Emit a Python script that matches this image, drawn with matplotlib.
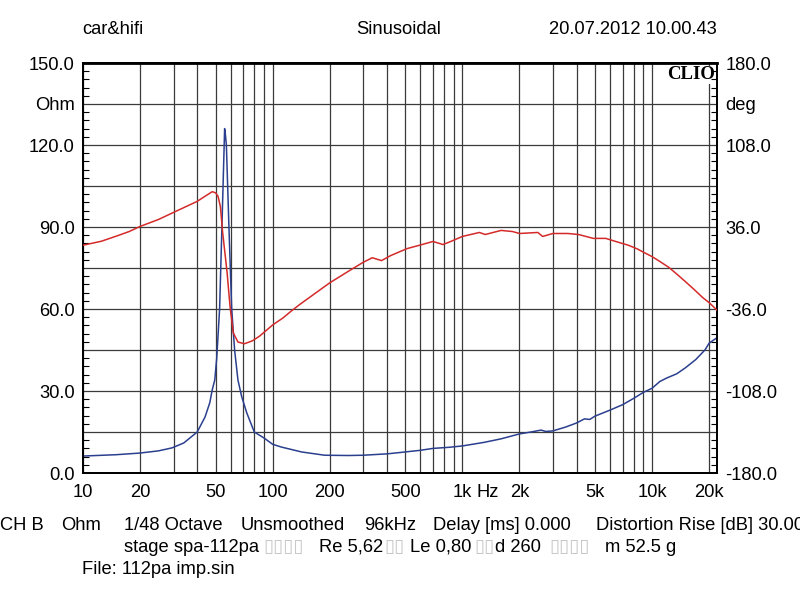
import matplotlib
matplotlib.use('Agg')
import matplotlib.pyplot as plt
from matplotlib.ticker import FixedLocator, MultipleLocator

plt.rcParams['font.family'] = ['Liberation Sans', 'DejaVu Sans']

# impedance magnitude (blue, left axis, Ohm)
imp_freq = [10, 15, 20, 25, 29.5, 34, 40, 44, 46.6, 48, 49.5, 50.7, 52.5, 54, 55.5,
            55.8, 56.3, 57, 58.8, 60.8, 63, 65.6, 68.6, 73, 80, 90, 100, 111, 142,
            188, 250, 300, 400, 470, 600, 700, 850, 1000, 1300, 1600, 2000, 2300,
            2600, 2750, 3000, 3500, 4000, 4400, 4700, 5000, 6000, 7000, 8000, 9000,
            10000, 11000, 12000, 13500, 15000, 17000, 19000, 20000, 22000]
imp_ohm = [6.2, 6.7, 7.3, 8.1, 9.2, 11, 15, 20.5, 25.7, 30.4, 34, 42, 60, 90, 120,
           126, 124, 120, 90, 60, 45, 34, 28, 22, 15, 12.8, 10.5, 9.5, 7.7,
           6.5, 6.4, 6.5, 7.0, 7.5, 8.3, 9.0, 9.4, 9.9, 11.2, 12.5, 14.3, 15.0,
           15.7, 15.2, 15.4, 16.8, 18.3, 19.8, 19.6, 20.8, 23.0, 25.0, 27.3, 29.5,
           31.0, 33.5, 34.8, 36.3, 38.5, 41.5, 45.0, 47.5, 49.5]

# phase (red, right axis, deg)
ph_freq = [10, 12.5, 15, 17.5, 20, 25, 30, 35, 40, 44, 48, 50, 51.5, 53, 54.5, 57.5,
           59.6, 62, 65.6, 71, 78, 85, 100, 113, 127, 139, 150, 200, 250, 300, 335,
           375, 420, 510, 610, 700, 790, 860, 1000, 1230, 1320, 1600, 1840, 2000,
           2500, 2650, 3000, 3600, 4100, 4900, 5700, 6700, 7500, 8300, 9100, 10000,
           11000, 12300, 13600, 15000, 16700, 18500, 20000, 22000]
ph_deg = [20, 23.5, 28, 32, 36.5, 42.6, 48.8, 54, 58.5, 63, 67, 66, 63, 54, 31, -4,
          -34, -57, -65, -66.5, -64, -60, -50, -44, -37, -32, -28, -13, -3, 5, 9,
          6.5, 11, 17, 20.5, 23.3, 20.6, 23, 27.7, 31.2, 29.4, 33, 32, 30.3,
          31.2, 27.7, 30.3, 30.3, 29.4, 26, 26, 22.4, 20, 17, 13.5, 10,
          5.7, 0.4, -5.8, -12, -19, -26, -30.4, -37]

x_labels = {10: '10', 20: '20', 50: '50', 100: '100', 200: '200', 500: '500',
            1000: '1k', 2000: '2k', 5000: '5k', 10000: '10k', 20000: '20k'}
grid_freqs = [d * m for d in (10, 100, 1000, 10000) for m in range(1, 10)] + [20000]

ohm_ticks = [0, 15, 30, 45, 60, 75, 90, 105, 120, 135, 150]
ohm_labels = ['0.0', '', '30.0', '', '60.0', '', '90.0', '', '120.0', 'Ohm', '150.0']
deg_ticks = [-180, -144, -108, -72, -36, 0, 36, 72, 108, 144, 180]
deg_labels = ['-180.0', '', '-108.0', '', '-36.0', '', '36.0', '', '108.0', 'deg', '180.0']

fig = plt.figure(figsize=(8, 6), dpi=100)
ax = fig.add_axes([83 / 800, 1 - 473 / 600, 634 / 800, 410 / 600])
fs = 13.2

ax.plot(imp_freq, imp_ohm, color='#2b3f8f', lw=1.1, zorder=3)
ax.set_xscale('log')
ax.set_xlim(10, 22000)
ax.set_ylim(0, 150)

ax.xaxis.set_major_locator(FixedLocator(list(x_labels.keys())))
ax.set_xticklabels(list(x_labels.values()))
ax.xaxis.set_minor_locator(FixedLocator([f for f in grid_freqs if f not in x_labels]))
ax.tick_params(axis='x', which='both', length=0, labelsize=fs, pad=8)

ax.set_yticks(ohm_ticks)
ax.set_yticklabels(ohm_labels)
ax.yaxis.set_minor_locator(MultipleLocator(3))
ax.tick_params(axis='y', which='both', direction='in', length=4, width=0.8,
               labelsize=fs, pad=6)
ax.tick_params(axis='y', which='major', length=0)

ax.grid(True, which='both', axis='x', color='#3a3a3a', lw=0.9)
ax.grid(True, which='major', axis='y', color='#3a3a3a', lw=0.9)
ax.set_axisbelow(True)

ax2 = ax.twinx()
ax2.plot(ph_freq, ph_deg, color='#d42a2a', lw=1.1, zorder=3)
ax2.set_ylim(-180, 180)
ax2.set_yticks(deg_ticks)
ax2.set_yticklabels(deg_labels)
ax2.yaxis.set_minor_locator(MultipleLocator(7.2))
ax2.tick_params(axis='y', which='both', direction='in', length=4, width=0.8,
                labelsize=fs, pad=6)
ax2.tick_params(axis='y', which='major', length=0)

for a in (ax, ax2):
    for s in a.spines.values():
        s.set_color('black')
        s.set_linewidth(1.3)
ax.spines['top'].set_linewidth(2)

ax.text(0.997, 0.992, 'CLIO', transform=ax.transAxes, ha='right', va='top',
        family=['Liberation Serif', 'DejaVu Serif'], weight='bold', fontsize=13.5,
        bbox=dict(facecolor='white', edgecolor='none', pad=0.5), zorder=5)
ax.text(0.62, -0.0465, 'Hz', transform=ax.transAxes, ha='left', va='center', fontsize=fs)

# header
fig.text(82 / 800, 1 - 30 / 600, 'car&hifi', ha='left', va='center', fontsize=fs)
fig.text(399 / 800, 1 - 30 / 600, 'Sinusoidal', ha='center', va='center', fontsize=fs)
fig.text(717 / 800, 1 - 30 / 600, '20.07.2012 10.00.43', ha='right', va='center', fontsize=fs)

# footer line 1 (the reference itself runs off the right edge)
footer1 = [(0, 'CH B'), (61, 'Ohm'), (124, '1/48 Octave'), (241, 'Unsmoothed'),
           (364, '96kHz'), (433, 'Delay [ms] 0.000'), (596, 'Distortion Rise [dB] 30.00')]
for x, s in footer1:
    fig.text(x / 800, 1 - 525 / 600, s, ha='left', va='center', fontsize=fs)

# footer line 2 (with missing-glyph boxes)
footer2 = [(124, 'stage spa-112pa', 'black'), (263, '\u25af\u25af\u25af\u25af', '#c8c8c8'),
           (319, 'Re 5,62', 'black'), (384, '\u25af\u25af', '#c8c8c8'),
           (410, 'Le 0,80', 'black'), (474, '\u25af\u25af', '#c8c8c8'),
           (495, 'd 260', 'black'), (549, '\u25af\u25af\u25af\u25af', '#c8c8c8'),
           (605, 'm 52.5 g', 'black')]
for x, s, c in footer2:
    fig.text(x / 800, 1 - 547 / 600, s, ha='left', va='center', fontsize=fs, color=c,
             family=['Liberation Sans', 'DejaVu Sans'])

fig.text(82 / 800, 1 - 569 / 600, 'File: 112pa imp.sin', ha='left', va='center', fontsize=fs)

fig.savefig('out.png', dpi=100)
